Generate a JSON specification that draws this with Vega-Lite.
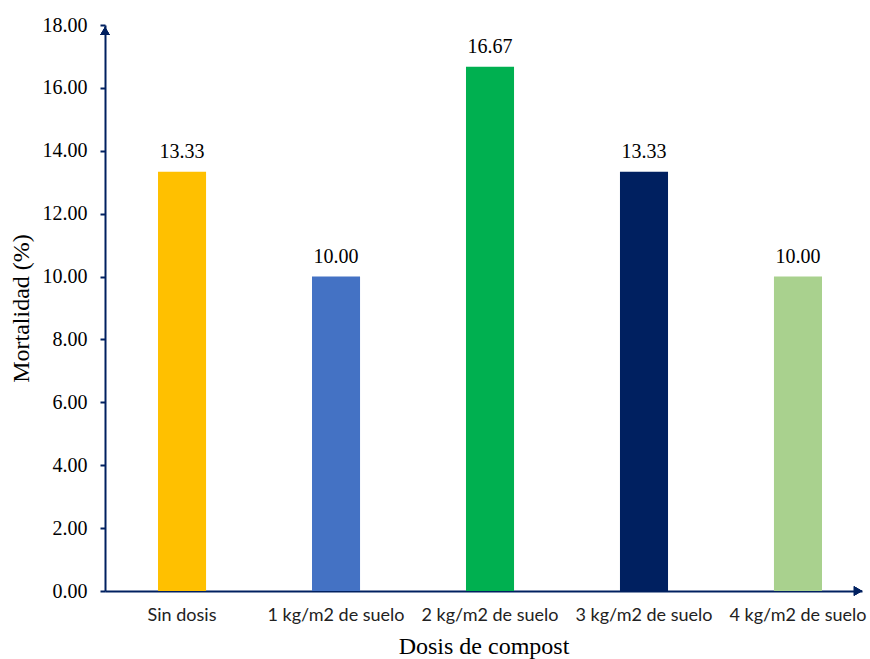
{
  "$schema": "https://vega.github.io/schema/vega-lite/v6.json",
  "autosize": {"type": "none"},
  "padding": {"left": 105, "top": 25, "right": 8, "bottom": 68},
  "width": 757,
  "height": 566,
  "background": "white",
  "data": {
    "values": [
      {"dosis": "Sin dosis", "mortalidad": 13.33},
      {"dosis": "1 kg/m2 de suelo", "mortalidad": 10.0},
      {"dosis": "2 kg/m2 de suelo", "mortalidad": 16.67},
      {"dosis": "3 kg/m2 de suelo", "mortalidad": 13.33},
      {"dosis": "4 kg/m2 de suelo", "mortalidad": 10.0}
    ]
  },
  "config": {
    "view": {"stroke": null},
    "axis": {"grid": false}
  },
  "layer": [
    {
      "mark": {"type": "bar"},
      "encoding": {
        "x": {
          "field": "dosis",
          "type": "nominal",
          "sort": null,
          "scale": {"paddingInner": 0.688, "paddingOuter": 0.302, "align": 0.57},
          "axis": {
            "title": "Dosis de compost",
            "titleFont": "Liberation Serif",
            "titleFontSize": 24,
            "titleFontWeight": "normal",
            "titleColor": "#000000",
            "titlePadding": 10,
            "labelFont": "Lato",
            "labelFontSize": 18,
            "labelColor": "#222222",
            "labelAngle": 0,
            "labelPadding": 15,
            "ticks": false,
            "domainColor": "#002060",
            "domainWidth": 2
          }
        },
        "y": {
          "field": "mortalidad",
          "type": "quantitative",
          "scale": {"domain": [0, 18], "nice": false},
          "axis": {
            "title": "Mortalidad (%)",
            "titleFont": "Liberation Serif",
            "titleFontSize": 24,
            "titleFontWeight": "normal",
            "titleColor": "#000000",
            "titlePadding": 9,
            "values": [0, 2, 4, 6, 8, 10, 12, 14, 16, 18],
            "format": ".2f",
            "labelFont": "Liberation Serif",
            "labelFontSize": 20,
            "labelColor": "#000000",
            "labelPadding": 13,
            "tickColor": "#002060",
            "tickSize": 5,
            "tickWidth": 2,
            "domainColor": "#002060",
            "domainWidth": 2
          }
        },
        "color": {
          "field": "dosis",
          "type": "nominal",
          "sort": null,
          "scale": {
            "domain": ["Sin dosis", "1 kg/m2 de suelo", "2 kg/m2 de suelo", "3 kg/m2 de suelo", "4 kg/m2 de suelo"],
            "range": ["#FFC000", "#4472C4", "#00B050", "#002060", "#A9D18E"]
          },
          "legend": null
        }
      }
    },
    {
      "mark": {"type": "text", "baseline": "bottom", "dy": -10, "font": "Liberation Serif", "fontSize": 20, "color": "#000000"},
      "encoding": {
        "x": {"field": "dosis", "type": "nominal", "sort": null},
        "y": {"field": "mortalidad", "type": "quantitative"},
        "text": {"field": "mortalidad", "type": "quantitative", "format": ".2f"}
      }
    },
    {
      "mark": {"type": "point", "shape": "triangle-up", "filled": true, "size": 90, "color": "#002060", "opacity": 1, "yOffset": 6},
      "encoding": {
        "x": {"value": 0},
        "y": {"datum": 18, "type": "quantitative"}
      }
    },
    {
      "mark": {"type": "point", "shape": "triangle-right", "filled": true, "size": 90, "color": "#002060", "opacity": 1, "xOffset": -4},
      "encoding": {
        "x": {"value": {"expr": "width"}},
        "y": {"datum": 0, "type": "quantitative"}
      }
    }
  ]
}
